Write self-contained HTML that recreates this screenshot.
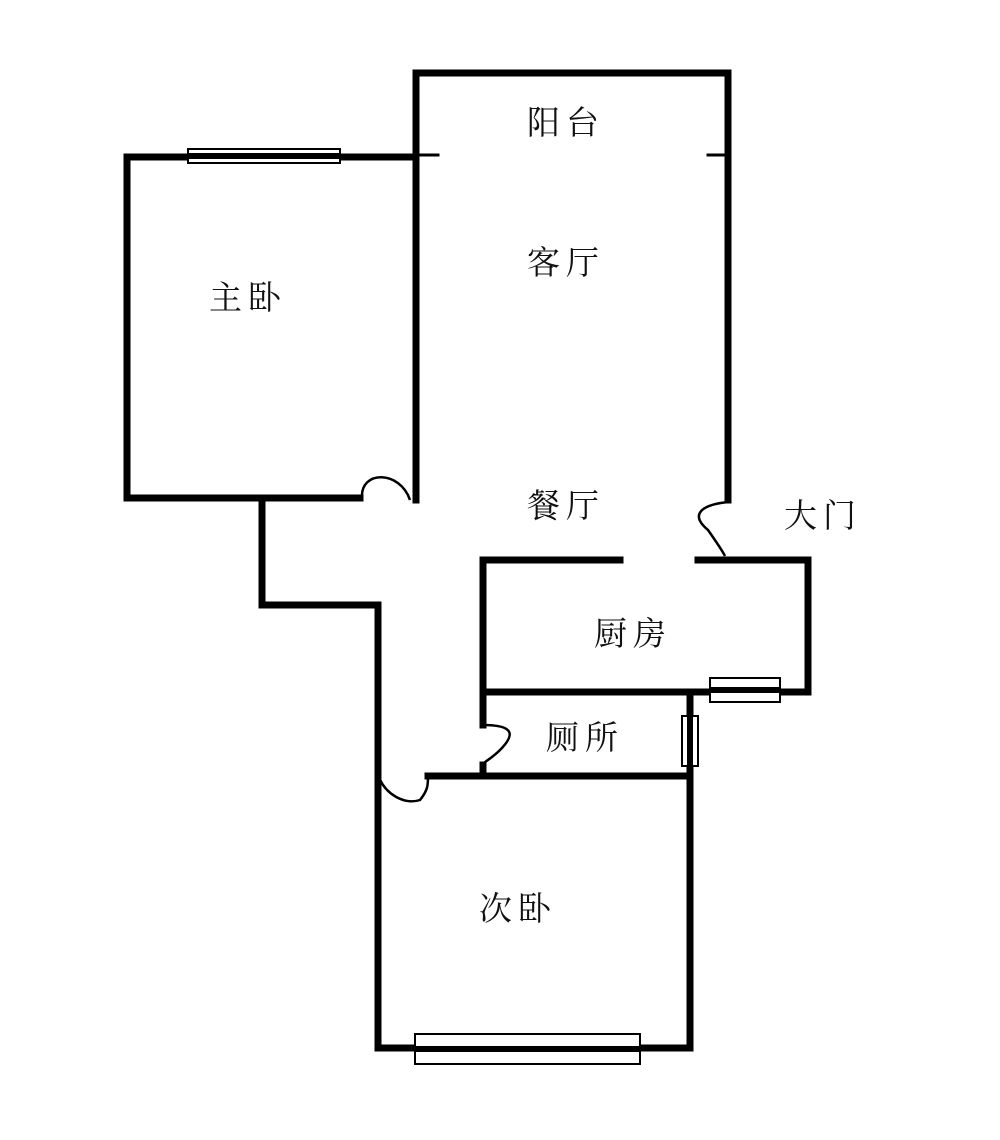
<!DOCTYPE html>
<html><head><meta charset="utf-8"><style>
html,body{margin:0;padding:0;background:#fff;}
svg{display:block}
text{font-family:"Liberation Serif","Noto Serif CJK SC","Noto Sans CJK SC",serif;font-size:33px;fill:#111;text-anchor:middle;letter-spacing:6px}
</style></head><body>
<svg width="1000" height="1140" viewBox="0 0 1000 1140">
<g stroke="#000" stroke-width="7" fill="none" stroke-linecap="square">
<polyline points="416,500 416,73 728,73 728,500"/>
<line x1="416" y1="155" x2="438" y2="155" stroke-width="3"/>
<line x1="708" y1="155" x2="728" y2="155" stroke-width="3"/>
<polyline points="416,157 127,157 127,498 360,498"/>
<polyline points="262,498 262,605 378,605 378,1048 690,1048 690,692"/>
<polyline points="620,560 483,560 483,725"/>
<polyline points="698,560 808,560 808,692 483,692"/>
<line x1="483" y1="765" x2="483" y2="776"/>
<line x1="428" y1="776" x2="690" y2="776"/>
</g>
<g stroke="#000" stroke-width="2.5" fill="none">
<path d="M362,498 C360,470 400,470 410,500"/>
<path d="M728,502 C700,505 690,515 708,530 C715,540 722,550 725,556"/>
<path d="M483,725 C515,725 515,735 500,750 C490,760 483,762 483,765"/>
<path d="M378,775 C385,795 405,805 420,800 C428,790 428,785 428,776"/>
</g>
<g stroke="#000" stroke-width="2" fill="#fff">
<rect x="188" y="149" width="152" height="14"/>
<rect x="710" y="678" width="70" height="24"/>
<rect x="682" y="716" width="16" height="50"/>
<rect x="415" y="1034" width="225" height="30"/>
</g>
<g stroke="#000" stroke-width="6">
<line x1="188" y1="156" x2="340" y2="156"/>
<line x1="710" y1="690" x2="780" y2="690"/>
<line x1="690" y1="716" x2="690" y2="766"/>
<line x1="415" y1="1049" x2="640" y2="1049"/>
</g>
<text x="566" y="134">阳台</text>
<text x="566" y="274">客厅</text>
<text x="248" y="309">主卧</text>
<text x="566" y="517">餐厅</text>
<text x="823" y="527">大门</text>
<text x="633" y="645">厨房</text>
<text x="585" y="749">厕所</text>
<text x="518" y="920">次卧</text>
</svg>
</body></html>
